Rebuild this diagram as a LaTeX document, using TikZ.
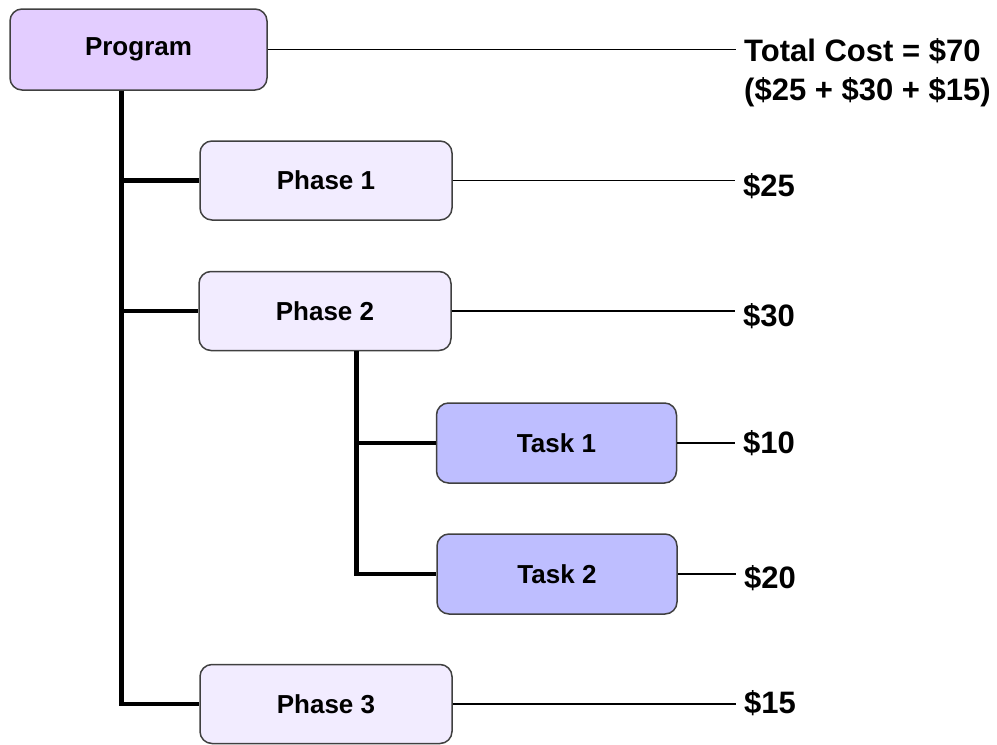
\documentclass[tikz,border=0pt]{standalone}
\usepackage{fontspec}
\setmainfont{Liberation Sans}
\usetikzlibrary{calc}
\definecolor{progfill}{RGB}{227,205,255}
\definecolor{phasefill}{RGB}{242,236,255}
\definecolor{taskfill}{RGB}{190,190,255}
\definecolor{boxline}{RGB}{64,64,64}
\begin{document}
\begin{tikzpicture}[x=1pt,y=-1pt,
  box/.style={draw=boxline,line width=1.5pt,rounded corners=12pt,inner sep=0pt,
    font=\fontsize{26}{30}\selectfont\bfseries},
  progbox/.style={box,fill=progfill,minimum width=257pt,minimum height=81pt},
  phasebox/.style={box,fill=phasefill,minimum width=252pt,minimum height=79pt},
  taskbox/.style={box,fill=taskfill,minimum width=240pt,minimum height=80pt},
  cost/.style={anchor=west,inner sep=2pt,font=\fontsize{31}{39}\selectfont\bfseries},
  trunk/.style={line width=4.5pt,black},
  thin/.style={line width=1.5pt,black,shorten >=6pt}]
\useasboundingbox (0,0) rectangle (997,745);
% boxes
\node[progbox] (prog) at (138.5,49.5) {Program};
\node[phasebox] (ph1) at (326,180.5) {Phase 1};
\node[phasebox] (ph2) at (325,311) {Phase 2};
\node[taskbox] (t1) at (556.5,443) {Task 1};
\node[taskbox] (t2) at (557,574) {Task 2};
\node[phasebox] (ph3) at (326,704) {Phase 3};
% cost labels
\node[cost,anchor=north west,align=left] (ctot) at (742,36) {Total Cost = \$70\\(\$25 + \$30 + \$15)};
\node[cost] (c1) at (741,186) {\$25};
\node[cost] (c2) at (741,316) {\$30};
\node[cost] (c3) at (741,443) {\$10};
\node[cost] (c4) at (742,578) {\$20};
\node[cost] (c5) at (742,703) {\$15};
% trunk lines
\coordinate (ptop) at ($(prog.south west)+(112,0)$);
\draw[trunk] (ptop) |- (ph3.west);
\draw[trunk] (ptop) |- (ph1.west);
\draw[trunk] (ptop) |- (ph2.west);
\coordinate (stop) at ($(ph2.south west)+(158,0)$);
\draw[trunk] (stop) |- (t2.west);
\draw[trunk] (stop) |- (t1.west);
% cost connectors
\draw[thin] (prog.east) -- (prog.east -| ctot.west);
\draw[thin] (ph1.east) -- (ph1.east -| c1.west);
\draw[thin] (ph2.east) -- (ph2.east -| c2.west);
\draw[thin] (t1.east) -- (t1.east -| c3.west);
\draw[thin] (t2.east) -- (t2.east -| c4.west);
\draw[thin] (ph3.east) -- (ph3.east -| c5.west);
\end{tikzpicture}
\end{document}
